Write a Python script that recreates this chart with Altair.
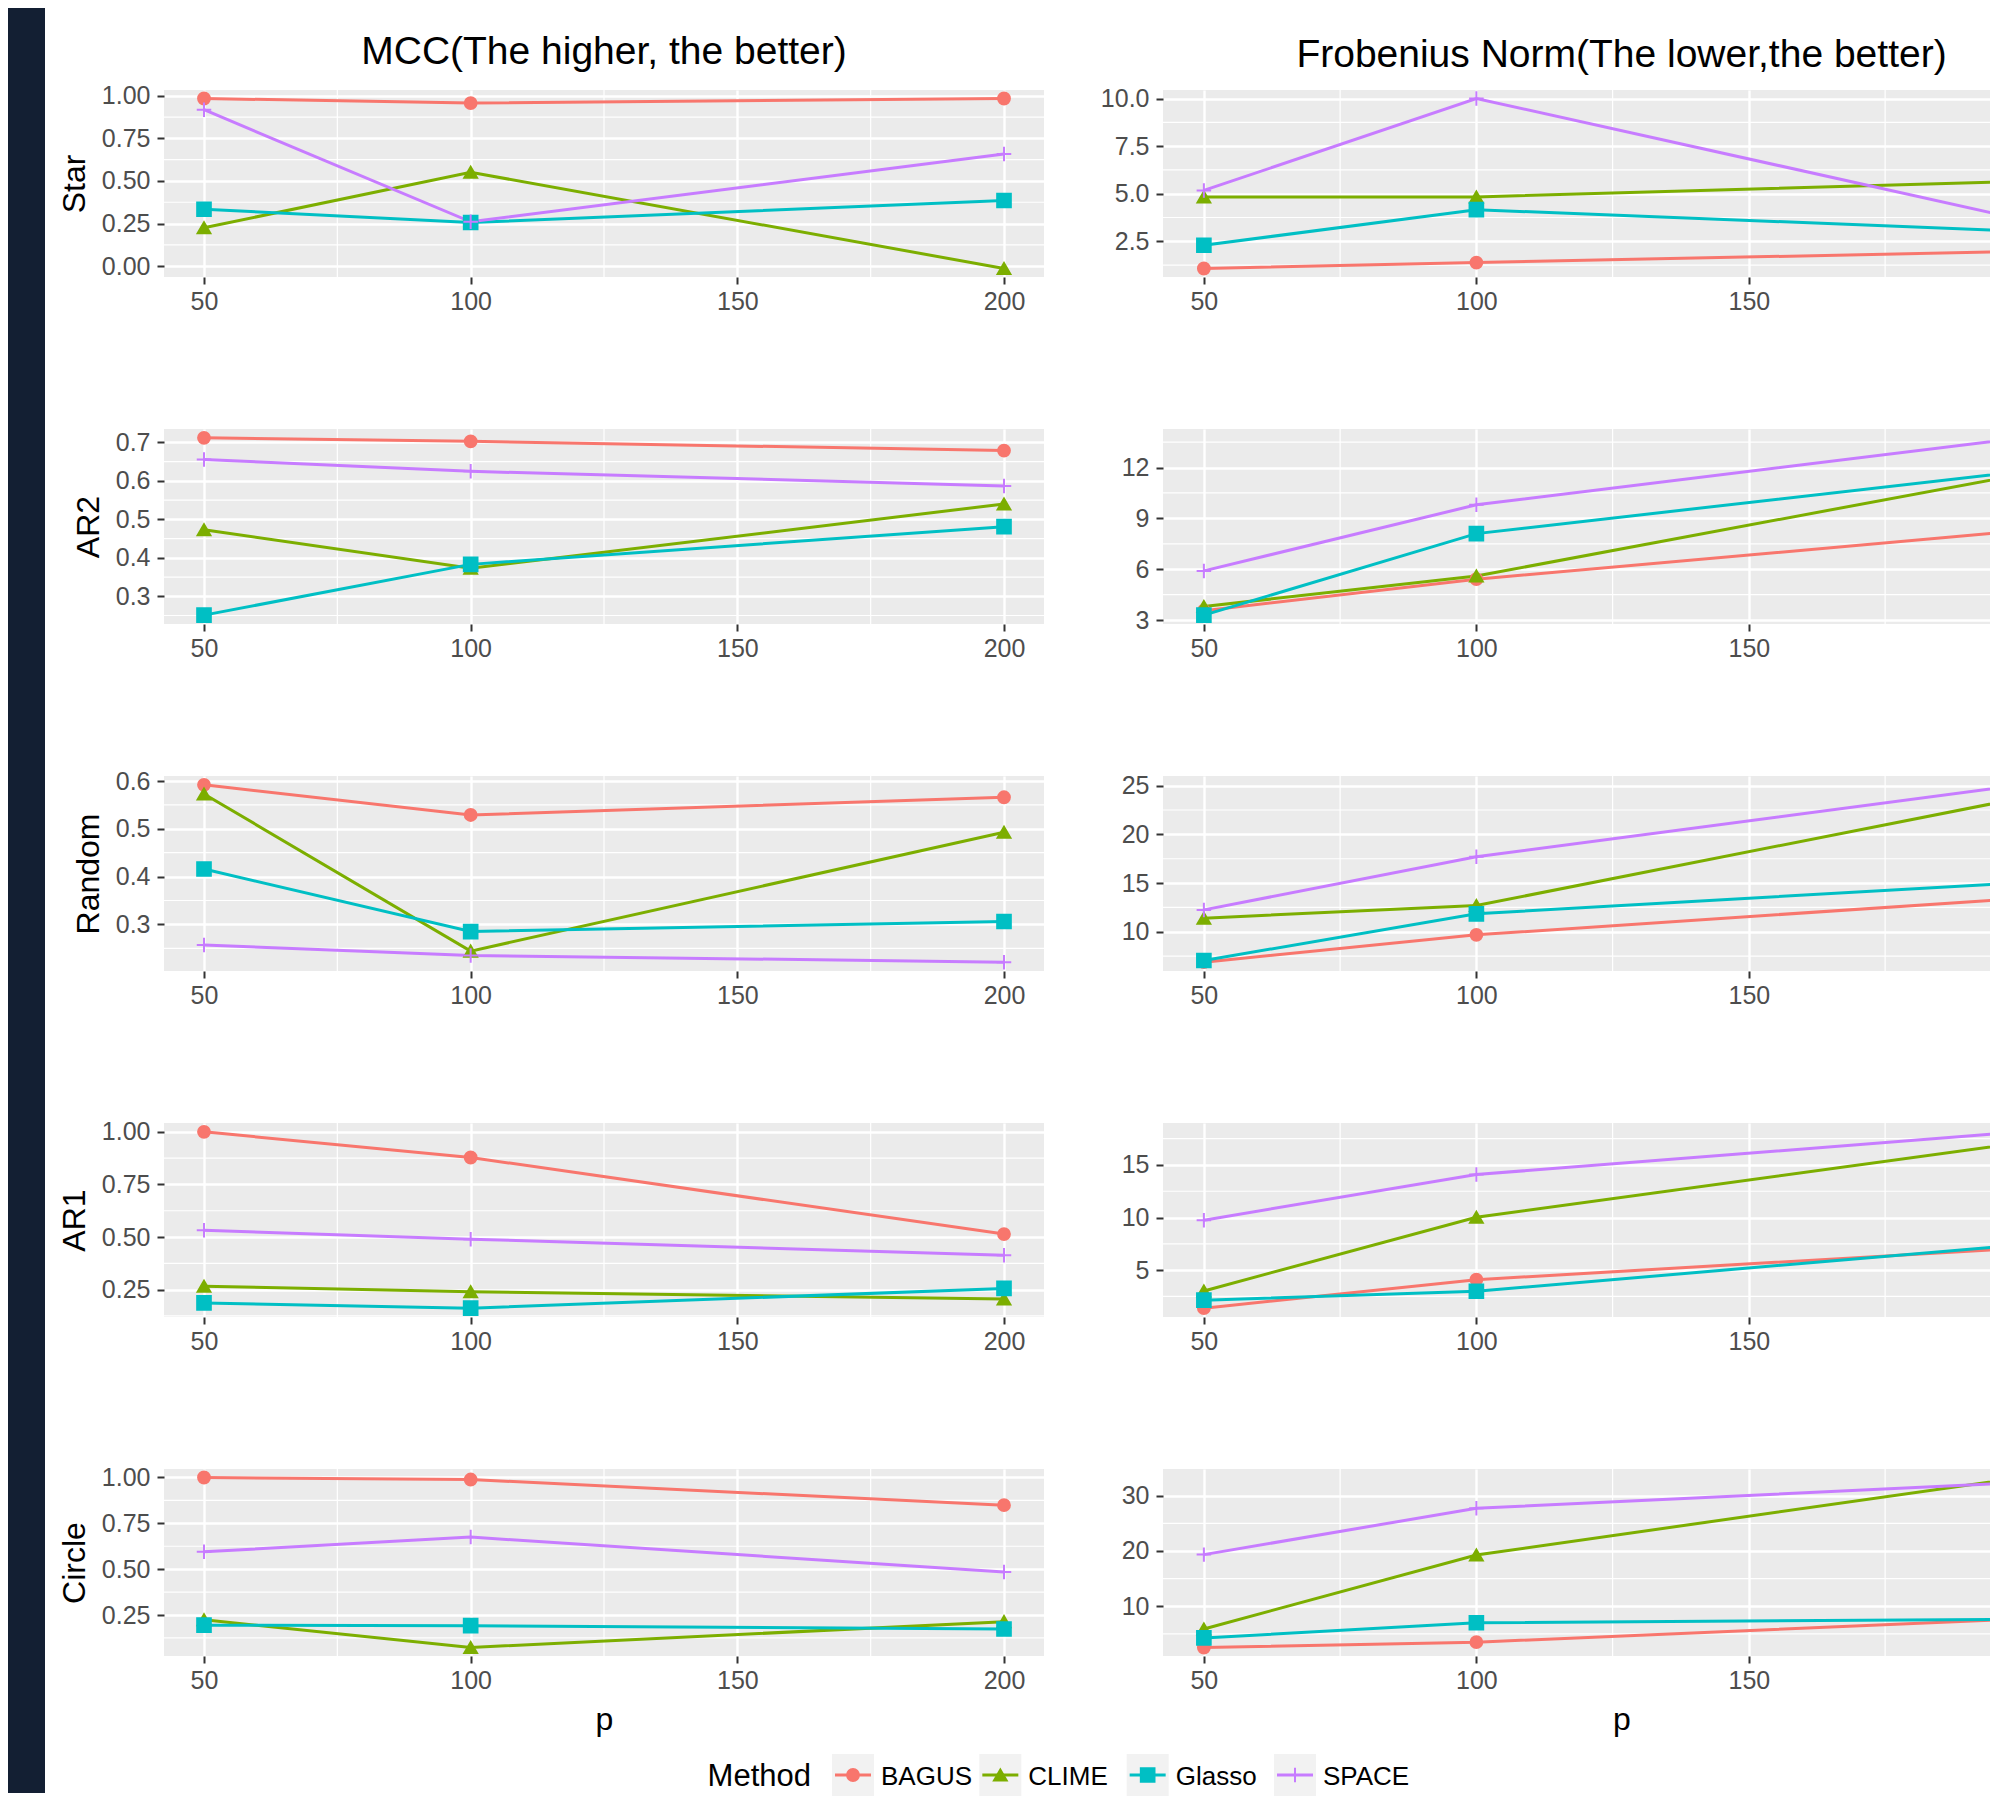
import altair as alt
import pandas as pd

METHODS = ["BAGUS", "CLIME", "Glasso", "SPACE"]
COLORS = ["#F8766D", "#7CAE00", "#00BFC4", "#C77CFF"]
SHAPES = ["circle", "triangle-up", "square", "M-1,0L1,0M0,-1L0,1"]
SIZES = [140, 210, 150, 380]
P_VALUES = [50, 100, 200]
X_TICKS = [50, 100, 150, 200]
STRUCTURES = ["Star", "AR2", "Random", "AR1", "Circle"]

# MCC (the higher, the better)
mcc_star = {"BAGUS": [0.984, 0.957, 0.984], "CLIME": [0.225, 0.551, -0.014],
            "Glasso": [0.334, 0.256, 0.385], "SPACE": [0.918, 0.260, 0.658]}
mcc_ar2 = {"BAGUS": [0.712, 0.703, 0.679], "CLIME": [0.473, 0.373, 0.540],
           "Glasso": [0.251, 0.383, 0.481], "SPACE": [0.656, 0.625, 0.587]}
mcc_random = {"BAGUS": [0.592, 0.529, 0.566], "CLIME": [0.573, 0.244, 0.493],
              "Glasso": [0.416, 0.285, 0.306], "SPACE": [0.257, 0.235, 0.221]}
mcc_ar1 = {"BAGUS": [1.000, 0.878, 0.514], "CLIME": [0.266, 0.240, 0.206],
           "Glasso": [0.187, 0.162, 0.256], "SPACE": [0.532, 0.490, 0.413]}
mcc_circle = {"BAGUS": [1.000, 0.989, 0.849], "CLIME": [0.224, 0.073, 0.214],
              "Glasso": [0.195, 0.192, 0.174], "SPACE": [0.595, 0.675, 0.485]}

# Frobenius norm (the lower, the better)
fro_star = {"BAGUS": [1.07, 1.38, 1.97], "CLIME": [4.83, 4.83, 5.65],
            "Glasso": [2.29, 4.16, 3.03], "SPACE": [5.17, 10.0, 3.65]}
fro_ar2 = {"BAGUS": [3.55, 5.41, 8.27], "CLIME": [3.80, 5.60, 11.60],
           "Glasso": [3.29, 8.10, 11.77], "SPACE": [5.90, 9.80, 13.75]}
fro_random = {"BAGUS": [6.89, 9.69, 13.44], "CLIME": [11.40, 12.70, 23.74],
              "Glasso": [7.06, 11.85, 15.05], "SPACE": [12.25, 17.70, 25.08]}
fro_ar1 = {"BAGUS": [1.38, 4.09, 7.09], "CLIME": [3.02, 10.03, 17.12],
           "Glasso": [2.14, 2.99, 7.41], "SPACE": [9.75, 14.09, 18.15]}
fro_circle = {"BAGUS": [2.54, 3.50, 7.69], "CLIME": [5.88, 19.28, 33.29],
              "Glasso": [4.27, 7.01, 7.64], "SPACE": [19.34, 27.73, 32.37]}

MCC_DATA = [mcc_star, mcc_ar2, mcc_random, mcc_ar1, mcc_circle]
FRO_DATA = [fro_star, fro_ar2, fro_random, fro_ar1, fro_circle]
MCC_TICKS = [[0, 0.25, 0.5, 0.75, 1.0], [0.3, 0.4, 0.5, 0.6, 0.7], [0.3, 0.4, 0.5, 0.6],
             [0.25, 0.5, 0.75, 1.0], [0.25, 0.5, 0.75, 1.0]]
MCC_FMT = [".2f", ".1f", ".1f", ".2f", ".2f"]
FRO_TICKS = [[2.5, 5.0, 7.5, 10.0], [3, 6, 9, 12], [10, 15, 20, 25], [5, 10, 15], [10, 20, 30]]
FRO_FMT = [".1f", "d", "d", "d", "d"]

FONT = "Liberation Sans"
BG = "#EBEBEB"
LEFT_W = 880
RIGHT_W = 827
HEIGHTS = [187, 195, 195, 194, 187]
ROW_GAP = 152
X_FULL = [42.5, 207.5]
X_RIGHT = [42.5, 42.5 + RIGHT_W / 5.45]
RIGHT_SHIFT = 45  # centre of the (partly cut) right-hand panels lies beyond the visible edge

color = alt.Color("Method:N", scale=alt.Scale(domain=METHODS, range=COLORS), legend=None)
stroke = alt.Stroke("Method:N", scale=alt.Scale(domain=METHODS, range=COLORS), legend=None)
shape = alt.Shape("Method:N", scale=alt.Scale(domain=METHODS, range=SHAPES), legend=None)
size = alt.Size("Method:N", scale=alt.Scale(domain=METHODS, range=SIZES), legend=None)


def tidy(values):
    return pd.DataFrame([{"p": p, "value": v, "Method": m}
                         for m in METHODS for p, v in zip(P_VALUES, values[m])])


def y_domain(values):
    vals = [v for m in METHODS for v in values[m]]
    lo, hi = min(vals), max(vals)
    pad = 0.05 * (hi - lo)
    return [lo - pad, hi + pad]


def minor(ticks, dom):
    step = ticks[1] - ticks[0]
    cands = [ticks[0] - step / 2] + [t + step / 2 for t in ticks]
    return [c for c in cands if dom[0] <= c <= dom[1]]


def panel(values, y_ticks, y_fmt, width, height, x_dom, y_title=None, x_title=None,
          title=None, shift=0):
    df = tidy(values)
    ydom = y_domain(values)
    xs = alt.Scale(domain=x_dom, nice=False, zero=False)
    ys = alt.Scale(domain=ydom, nice=False, zero=False)
    x_ticks = [t for t in X_TICKS if x_dom[0] <= t <= x_dom[1]]

    xaxis_kw = dict(values=x_ticks, format="d", orient="bottom", grid=True, gridColor="white",
                    gridWidth=2.4, tickColor="#333333", tickSize=7, tickWidth=2, domain=False,
                    labelFont=FONT, labelFontSize=25, labelColor="#4D4D4D", labelPadding=5,
                    title=x_title, titleFont=FONT, titleFontSize=32, titleColor="black",
                    titleFontWeight="normal", titlePadding=11)
    if x_title:
        xaxis_kw["titleX"] = width / 2 + shift
    xaxis = alt.Axis(**xaxis_kw)
    yaxis = alt.Axis(values=y_ticks, format=y_fmt, orient="left", grid=True, gridColor="white",
                     gridWidth=2.4, tickColor="#333333", tickSize=7, tickWidth=2, domain=False,
                     labelFont=FONT, labelFontSize=25, labelColor="#4D4D4D", labelPadding=7,
                     title=y_title, titleFont=FONT, titleFontSize=32, titleColor="black",
                     titleFontWeight="normal", titlePadding=10)

    xminor = alt.Chart(pd.DataFrame({"p": minor(X_TICKS, x_dom)})).mark_rule(
        color="white", strokeWidth=1.2).encode(x=alt.X("p:Q", scale=xs, axis=xaxis))
    yminor = alt.Chart(pd.DataFrame({"value": minor(y_ticks, ydom)})).mark_rule(
        color="white", strokeWidth=1.2).encode(y=alt.Y("value:Q", scale=ys, axis=yaxis))

    base = alt.Chart(df)
    lines = base.mark_line(strokeWidth=3, clip=True).encode(
        x=alt.X("p:Q", scale=xs, axis=xaxis),
        y=alt.Y("value:Q", scale=ys, axis=yaxis),
        color=color,
        detail="Method:N",
    )
    points = base.mark_point(filled=True, strokeWidth=2, opacity=1, clip=True).encode(
        x=alt.X("p:Q", scale=xs, axis=xaxis),
        y=alt.Y("value:Q", scale=ys, axis=yaxis),
        color=color, stroke=stroke, shape=shape, size=size,
    )
    props = dict(width=width, height=height,
                 view=alt.ViewBackground(fill=BG, stroke="transparent", strokeWidth=0))
    if title:
        props["title"] = alt.TitleParams(text=title, font=FONT, fontSize=39, fontWeight="normal",
                                         color="black", anchor="middle", frame="group", offset=12,
                                         dx=shift)
    return alt.layer(xminor, yminor, lines, points).properties(**props)


left_panels = []
right_panels = []
for i in range(5):
    last = i == 4
    left_panels.append(panel(MCC_DATA[i], MCC_TICKS[i], MCC_FMT[i], LEFT_W, HEIGHTS[i], X_FULL,
                             y_title=STRUCTURES[i], x_title="p" if last else None,
                             title="MCC(The higher, the better)" if i == 0 else None))
    right_panels.append(panel(FRO_DATA[i], FRO_TICKS[i], FRO_FMT[i], RIGHT_W, HEIGHTS[i], X_RIGHT,
                              x_title="p" if last else None,
                              title="Frobenius Norm(The lower,the better)" if i == 0 else None,
                              shift=RIGHT_SHIFT))

left_col = alt.vconcat(*left_panels, spacing=ROW_GAP, bounds="flush")
right_col = alt.vconcat(*right_panels, spacing=ROW_GAP, bounds="flush")
grid = alt.hconcat(left_col, right_col, spacing=55)

# legend row
leg_df = pd.DataFrame({"Method": METHODS})
LEG_H = 42
lx = alt.X("Method:N", scale=alt.Scale(type="point", domain=METHODS, range=[689, 1131], padding=0),
           axis=None)
lbase = alt.Chart(leg_df)
key_bg = lbase.mark_point(shape="square", filled=True, size=42 * 42, color="#F2F2F2", opacity=1).encode(
    x=lx, y=alt.value(LEG_H / 2))
key_line = lbase.mark_point(shape="M-1,0L1,0", filled=False, size=36 * 36, strokeWidth=3, opacity=1).encode(
    x=lx, y=alt.value(LEG_H / 2), color=color)
key_pt = lbase.mark_point(filled=True, strokeWidth=2, opacity=1).encode(
    x=lx, y=alt.value(LEG_H / 2), color=color, stroke=stroke, shape=shape, size=size)
key_txt = lbase.mark_text(align="left", baseline="middle", dx=28, font=FONT, fontSize=26, color="black").encode(
    x=lx, y=alt.value(LEG_H / 2 + 2), text="Method:N")
leg_title = alt.Chart(pd.DataFrame({"t": ["Method"]})).mark_text(
    align="right", baseline="middle", font=FONT, fontSize=31, color="black").encode(
    x=alt.value(647), y=alt.value(LEG_H / 2 + 2), text="t:N")
legend = alt.layer(key_bg, key_line, key_pt, key_txt, leg_title).properties(
    width=1400, height=LEG_H, view=alt.ViewBackground(fill="white", stroke="transparent", strokeWidth=0))

main = alt.vconcat(grid, legend, spacing=19)

STRIP_TOP = 82
STRIP_BOTTOM = 1703
strip = alt.Chart(pd.DataFrame({"a": [0]})).mark_rect(color="#131F33").encode(
    x=alt.value(0), x2=alt.value(37), y=alt.value(-STRIP_TOP), y2=alt.value(STRIP_BOTTOM)
).properties(width=37, height=STRIP_BOTTOM,
             view=alt.ViewBackground(fill="white", stroke="transparent", strokeWidth=0))

chart = alt.hconcat(strip, main, spacing=13).properties(
    padding={"left": 0, "top": 0, "right": 0, "bottom": 0}
).configure_view(stroke="transparent", strokeWidth=0).configure(background="white")

chart.save("out.html", embed_options={"renderer": "svg", "actions": False})
